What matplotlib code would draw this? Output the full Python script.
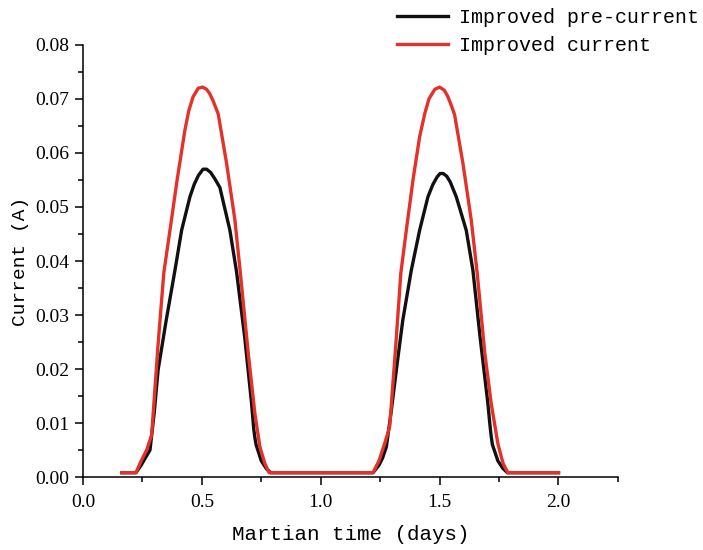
import numpy as np
import matplotlib
matplotlib.use("Agg")
import matplotlib.pyplot as plt
from matplotlib.ticker import MultipleLocator

# values (Martian time in days, current in A)
pre_t = [0.164, 0.223, 0.245, 0.262, 0.282, 0.300, 0.316, 0.350, 0.387, 0.415,
         0.450, 0.468, 0.485, 0.505, 0.520, 0.537, 0.555, 0.576, 0.618, 0.646, 0.680, 0.709,
         0.718, 0.722, 0.728, 0.750, 0.772, 0.790,
         1.000, 1.220, 1.245, 1.260, 1.276, 1.296, 1.318, 1.345, 1.381, 1.416,
         1.451, 1.472, 1.490, 1.502, 1.515, 1.530, 1.545, 1.570, 1.612, 1.640, 1.670, 1.703,
         1.712, 1.717, 1.722, 1.745, 1.766, 1.785, 2.000]
pre_i = [0.0008, 0.0008, 0.0022, 0.0035, 0.0050, 0.0120, 0.0198, 0.0290, 0.0383, 0.0457,
         0.0519, 0.0542, 0.0558, 0.0570, 0.0570, 0.0564, 0.0552, 0.0536, 0.0457, 0.0380, 0.0260, 0.0137,
         0.0090, 0.0076, 0.0060, 0.0030, 0.0015, 0.0008,
         0.0008, 0.0008, 0.0022, 0.0035, 0.0056, 0.0120, 0.0198, 0.0290, 0.0383, 0.0457,
         0.0519, 0.0542, 0.0556, 0.0562, 0.0562, 0.0557, 0.0546, 0.0519, 0.0457, 0.0383, 0.0260, 0.0136,
         0.0095, 0.0075, 0.0060, 0.0030, 0.0016, 0.0008, 0.0008]

cur_t = [0.164, 0.223, 0.245, 0.268, 0.289, 0.315, 0.340, 0.366, 0.396, 0.429,
         0.445, 0.463, 0.485, 0.503, 0.520, 0.533, 0.548, 0.569, 0.604, 0.639, 0.662, 0.695,
         0.723, 0.744, 0.765, 0.783,
         1.000, 1.220, 1.245, 1.269, 1.290, 1.315, 1.337, 1.360, 1.388, 1.416,
         1.437, 1.455, 1.480, 1.500, 1.520, 1.533, 1.545, 1.563, 1.598, 1.633, 1.658, 1.690,
         1.717, 1.745, 1.767, 1.787, 2.000]
cur_i = [0.0008, 0.0008, 0.0030, 0.0050, 0.0078, 0.0240, 0.0378, 0.0457, 0.0550, 0.0643,
         0.0678, 0.0704, 0.0720, 0.0722, 0.0718, 0.0710, 0.0696, 0.0672, 0.0581, 0.0476, 0.0378, 0.0230,
         0.0118, 0.0056, 0.0025, 0.0008,
         0.0008, 0.0008, 0.0030, 0.0062, 0.0093, 0.0240, 0.0378, 0.0457, 0.0550, 0.0630,
         0.0672, 0.0700, 0.0718, 0.0722, 0.0716, 0.0706, 0.0693, 0.0671, 0.0581, 0.0476, 0.0378, 0.0230,
         0.0136, 0.0062, 0.0025, 0.0008, 0.0008]

mono = "Liberation Mono"
serif = "Liberation Serif"

fig = plt.figure(figsize=(7.03, 5.5), dpi=100)
ax = fig.add_axes([0.118, 0.1327, 0.761, 0.7855])

ax.plot(pre_t, pre_i, color="#111111", lw=2.4, label="Improved pre-current")
ax.plot(cur_t, cur_i, color="#e2322a", lw=2.4, label="Improved current")

ax.set_xlim(0, 2.25)
ax.set_ylim(0, 0.08)
ax.xaxis.set_major_locator(MultipleLocator(0.5))
ax.xaxis.set_minor_locator(MultipleLocator(0.25))
ax.yaxis.set_major_locator(MultipleLocator(0.01))
ax.yaxis.set_minor_locator(MultipleLocator(0.005))
ax.xaxis.set_major_formatter(matplotlib.ticker.FormatStrFormatter("%.1f"))
ax.yaxis.set_major_formatter(matplotlib.ticker.FormatStrFormatter("%.2f"))

for s in ["top", "right"]:
    ax.spines[s].set_visible(False)
for s in ["left", "bottom"]:
    ax.spines[s].set_linewidth(1.1)

ax.tick_params(which="major", direction="out", length=6, width=1.1, pad=4)
ax.tick_params(which="minor", direction="out", length=3.5, width=1.1)
ax.tick_params(axis="x", which="major", pad=6)
for lab in ax.get_xticklabels() + ax.get_yticklabels():
    lab.set_fontfamily(serif)
    lab.set_fontsize(14)

ax.set_xlabel("Martian time (days)", fontfamily=mono, fontsize=15, labelpad=10)
ax.set_ylabel("Current (A)", fontfamily=mono, fontsize=14, labelpad=4)

fig.legend(loc="upper left", bbox_to_anchor=(0.553, 1.0), frameon=False,
           prop={"family": mono, "size": 14.4}, handlelength=2.55,
           handletextpad=0.55, labelspacing=0.45, borderaxespad=0)

fig.savefig("out.png", dpi=100)
